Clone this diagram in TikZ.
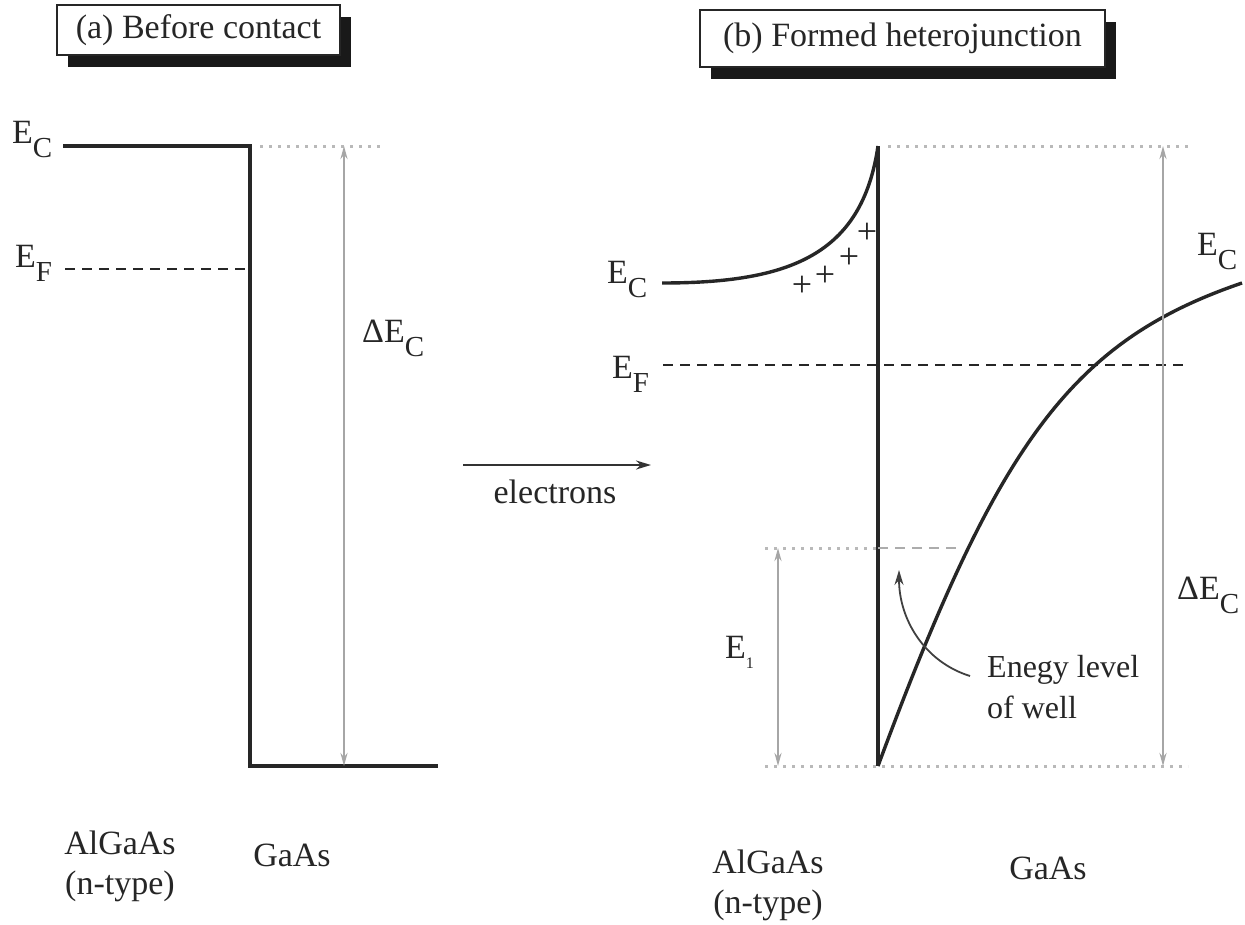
\documentclass[tikz,border=0pt]{standalone}
\usepackage{fontspec}
\setmainfont{Liberation Serif}
\usetikzlibrary{arrows.meta,shadows}
\newcommand\lowsub[1]{\raisebox{-0.42em}{\fontsize{29}{29}\selectfont #1}}
\begin{document}
\begin{tikzpicture}[x=1pt,y=-1pt,
  band/.style={line width=3.4pt, black!85},
  fermi/.style={line width=2.2pt, dash pattern=on 10pt off 7pt, black!85},
  guide/.style={line width=3pt, gray!55, dash pattern=on 2.5pt off 6.5pt},
  wellline/.style={line width=2.2pt, gray!65, dash pattern=on 10pt off 7pt},
  dimarrow/.style={line width=2.5pt, gray!70, {Stealth[length=13pt,width=7pt]}-{Stealth[length=13pt,width=7pt]}},
  lbl/.style={font=\fontsize{34}{40}\selectfont, text=black!85, inner sep=0pt},
  plus/.style={font=\fontsize{36}{36}\selectfont, text=black!85, inner sep=0pt},
  titlebox/.style={draw=black!85, line width=2pt, fill=white,
    font=\fontsize{34}{40}\selectfont, text=black!85, inner sep=0pt,
    general shadow={fill=black!90, shadow xshift=11pt, shadow yshift=-12pt}}]
\fill[white] (0,0) rectangle (1245,924);
\useasboundingbox (0,0) rectangle (1245,924);

% titles
\node[titlebox, minimum width=283pt, minimum height=50pt] (ta) at (198.5,30) {(a) Before contact};
\node[titlebox, minimum width=405pt, minimum height=57pt] (tb) at (902.5,38.5) {(b) Formed heterojunction};

% ---------- panel (a) ----------
\coordinate (aL) at (63,146);
\coordinate (aC) at (250,146);
\coordinate (aB) at (250,766);
\coordinate (aR) at (438,766);
\draw[band] (aL) -- (aC) -- (aB) -- (aR);
\coordinate (aFL) at (65,269);
\coordinate (aFR) at (248,269);
\draw[fermi] (aFL) -- (aFR);
\coordinate (aG1) at (260,146);
\coordinate (aG2) at (380,146);
\draw[guide] (aG1) -- (aG2);
\coordinate (aDt) at (344,146);
\coordinate (aDb) at (344,766);
\draw[dimarrow] (aDb) -- (aDt);

\node[lbl, anchor=base west] (aEC) at (12,143) {E\lowsub{C}};
\node[lbl, anchor=base west] (aEF) at (15,267) {E\lowsub{F}};
\node[lbl, anchor=base west] (aDE) at (362,342) {ΔE\lowsub{C}};

\node[lbl, align=center] (aAl) at (120,866) {AlGaAs\\(n-type)};
\node[lbl] (aGa) at (292,855) {GaAs};

% ---------- electrons arrow ----------
\coordinate (e1) at (463,465);
\coordinate (e2) at (651,465);
\draw[line width=2.2pt, black!80, -{Stealth[length=15pt,width=9pt]}] (e1) -- (e2);
\node[lbl] (el) at (555,492) {electrons};

% ---------- panel (b) ----------
\coordinate (bT) at (878,146);
\coordinate (bB) at (878,766);
\draw[band] (bT) -- (bB);
% left conduction band
\coordinate (lc0) at (662,283);
\draw[band] (lc0) .. controls (790,283) and (862,255) .. (bT);
% right conduction band
\coordinate (rc1) at (1242,283);
\draw[band] (bB) .. controls (998,442) and (1072,341) .. (rc1);

\coordinate (bFL) at (663,365);
\coordinate (bFR) at (1190,365);
\draw[fermi] (bFL) -- (bFR);

\coordinate (bG1) at (888,146);
\coordinate (bG2) at (1188,146);
\draw[guide] (bG1) -- (bG2);
\coordinate (bG3) at (765,766);
\coordinate (bG4) at (1188,766);
\draw[guide] (bG3) -- (bG4);
\coordinate (bG5) at (765,548);
\coordinate (bG6) at (878,548);
\coordinate (bG7) at (962,548);
\draw[guide] (bG5) -- (bG6);
\draw[wellline] (bG6) -- (bG7);

\coordinate (bDt) at (1163,146);
\coordinate (bDb) at (1163,766);
\draw[dimarrow] (bDb) -- (bDt);
\coordinate (bEt) at (778,548);
\coordinate (bEb) at (778,766);
\draw[dimarrow] (bEb) -- (bEt);

\node[plus] (p1) at (802,286) {+};
\node[plus] (p2) at (825,276) {+};
\node[plus] (p3) at (849,258) {+};
\node[plus] (p4) at (867,233) {+};

\node[lbl, anchor=base west] (bEC) at (607,283) {E\lowsub{C}};
\node[lbl, anchor=base west] (bEF) at (612,378) {E\lowsub{F}};
\node[lbl, anchor=base west] (bEC2) at (1197,255) {E\lowsub{C}};
\node[lbl, anchor=base west] (bDE) at (1177,599) {ΔE\lowsub{C}};
\node[lbl, anchor=base west] (bE1) at (725,658) {E\raisebox{-0.3em}{\fontsize{16}{16}\selectfont 1}};

% energy level annotation
\node[lbl, align=left, anchor=north west, font=\fontsize{32}{41}\selectfont] (well) at (987,655) {Enegy level\\of well};
\coordinate (wa) at (970,676);
\coordinate (wb) at (899,570);
\draw[line width=1.8pt, black!75, -{Stealth[length=15pt,width=9pt]}] (wa) .. controls (925,662) and (899,620) .. (wb);

\node[lbl, align=center] (bAl) at (768,885) {AlGaAs\\(n-type)};
\node[lbl] (bGa) at (1048,868) {GaAs};
\end{tikzpicture}
\end{document}
